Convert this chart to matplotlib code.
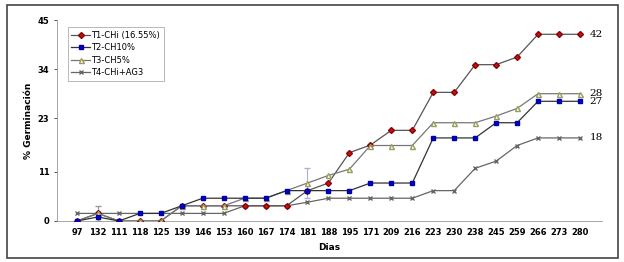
import matplotlib
matplotlib.use('Agg')
import matplotlib.pyplot as plt
from matplotlib.patches import Rectangle

dias = ['97', '132', '111', '118', '125', '139', '146', '153', '160', '167', '174', '181', '188',
        '195', '171', '209', '216', '223', '230', '238', '245', '259', '266', '273', '280']

t1 = [0, 1.7, 0, 0, 0, 3.4, 3.4, 3.4, 3.4, 3.4, 3.4, 6.8, 8.5,
      15.3, 17.0, 20.3, 20.3, 28.8, 28.8, 35.0, 35.0, 36.7, 41.8, 41.8, 41.8]
t2 = [0, 0.9, 0, 1.7, 1.7, 3.4, 5.1, 5.1, 5.1, 5.1, 6.8, 6.8, 6.8,
      6.8, 8.5, 8.5, 8.5, 18.6, 18.6, 18.6, 22.0, 22.0, 26.8, 26.8, 26.8]
t3 = [0, 1.7, 0, 0, 0, 3.4, 3.4, 3.4, 5.1, 5.1, 6.8, 8.5, 10.2,
      11.6, 16.9, 16.9, 16.9, 22.0, 22.0, 22.0, 23.5, 25.2, 28.5, 28.5, 28.5]
t4 = [1.7, 1.7, 1.7, 1.7, 1.7, 1.7, 1.7, 1.7, 3.4, 3.4, 3.4, 4.2, 5.1,
      5.1, 5.1, 5.1, 5.1, 6.8, 6.8, 11.8, 13.4, 16.9, 18.6, 18.6, 18.6]

labels = ['T1-CHi (16.55%)', 'T2-CH10%', 'T3-CH5%', 'T4-CHi+AG3']
end_labels = ['42', '28', '27', '18']

x = list(range(len(dias)))

fig = plt.figure(figsize=(6.24, 2.62), dpi=100)
fig.patches.append(Rectangle((7 / 624, 4 / 262), 611 / 624, 253 / 262, transform=fig.transFigure,
                             fill=False, edgecolor='#444444', linewidth=1.2))
ax = fig.add_axes([57 / 624, 1 - 221 / 262, 545 / 624, 201 / 262])

ax.plot(x, t4, color='#666666', marker='x', markersize=2.8, linewidth=0.9, label=labels[3], zorder=2)
ax.plot(x, t1, color='#555555', marker='D', markersize=3, markerfacecolor='#c0141c',
        markeredgecolor='#8b0000', linewidth=0.9, label=labels[0], zorder=3)
ax.plot(x, t3, color='#777777', marker='^', markersize=3.6, markerfacecolor='#ffffd0',
        markeredgecolor='#9a9a66', linewidth=0.9, label=labels[2], zorder=4)
ax.plot(x, t2, color='#333333', marker='s', markersize=3.2, markerfacecolor='#0000cc',
        markeredgecolor='#0000aa', linewidth=0.9, label=labels[1], zorder=5)

# error bars
ax.errorbar([1], [t4[1]], yerr=[1.7], fmt='none', ecolor='#999999', elinewidth=0.8, capsize=2)
ax.errorbar([11], [t3[11]], yerr=[3.4], fmt='none', ecolor='#aab4cc', elinewidth=0.8, capsize=2)

for val, lab in zip([t1[-1], t3[-1], t2[-1], t4[-1]], end_labels):
    ax.text(len(dias) - 1 + 0.45, val, lab, fontsize=7.5, family='DejaVu Serif', va='center', ha='left')

ax.set_xlim(-0.95, 25.05)
ax.set_ylim(0, 45)
ax.set_yticks([0, 11, 23, 34, 45])
ax.set_xticks(x)
ax.set_xticklabels(dias)
ax.tick_params(axis='both', labelsize=6, length=2, width=0.6, colors='#333333')
ax.tick_params(axis='x', length=0, pad=5)
for t in ax.get_xticklabels() + ax.get_yticklabels():
    t.set_fontweight('bold')
    t.set_color('black')
for s in ['top', 'right']:
    ax.spines[s].set_visible(False)
ax.spines['left'].set_color('#999999')
ax.spines['bottom'].set_color('#999999')
ax.spines['left'].set_linewidth(0.6)
ax.spines['bottom'].set_linewidth(0.6)

ax.set_xlabel('Dias', fontsize=6.5, fontweight='bold', labelpad=4)
ax.set_ylabel('% Germinación', fontsize=6.5, fontweight='bold', labelpad=3)

handles, labs = ax.get_legend_handles_labels()
order = [labs.index(l) for l in labels]
leg = ax.legend([handles[i] for i in order], [labs[i] for i in order], loc='upper left',
                bbox_to_anchor=(0.012, 0.985), fontsize=6, frameon=True, fancybox=False,
                edgecolor='#999999', borderpad=0.45, labelspacing=0.4, handlelength=2.2,
                handletextpad=0.2)
leg.get_frame().set_linewidth(0.6)

fig.savefig('out.png', dpi=100)
